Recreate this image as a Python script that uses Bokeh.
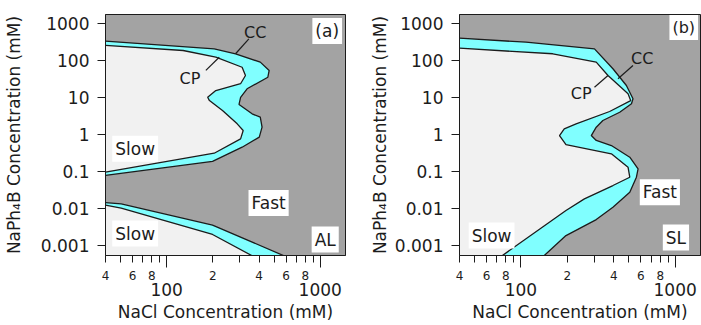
from bokeh.plotting import figure
from bokeh.models import LogAxis, FixedTicker, Label, Range1d
from bokeh.layouts import row
from bokeh.embed import file_html
from bokeh.resources import INLINE

# ---- styling -------------------------------------------------------------
FONT = "DejaVu Sans"
INK = "#1c1c1c"
FAST_COLOR = "#a3a3a3"
SLOW_COLOR = "#f1f1f1"
BAND_COLOR = "#80ffff"

# ---- axes ----------------------------------------------------------------
X_RANGE = (40, 1460)
Y_RANGE = (0.00054, 1790)
Y_TICKS = [0.001, 0.01, 0.1, 1, 10, 100, 1000]
Y_TICK_LABELS = ["0.001", "0.01", "0.1", "1", "10", "100", "1000"]
X_DECADES = [100, 1000]
X_DECADE_LABELS = ["100", "1000"]
X_DIGIT_TICKS = [40, 60, 80, 200, 400, 600, 800]
X_DIGIT_LABELS = ["4", "6", "8", "2", "4", "6", "8"]
X_MINOR = [40, 50, 60, 70, 80, 90, 200, 300, 400, 500, 600, 700, 800, 900]

# ---- panel (a): AL ---------------------------------------------------------
# upper slow/fast boundary: CC (critical coagulation) and CP lines
A_UP_CC_X = [40, 204, 281, 407, 465, 456, 334, 303, 296, 360, 407, 418, 401, 310, 199, 40]
A_UP_CC_Y = [339, 211, 155, 92, 55, 36, 17.5, 10.3, 6.6, 3.68, 2.98, 1.6, 0.86, 0.46, 0.19, 0.079]
A_UP_CP_X = [40, 128, 209, 310, 326, 303, 209, 185, 190, 231, 288, 315, 303, 204, 40]
A_UP_CP_Y = [260, 190, 125, 67, 40, 24, 15.7, 10.3, 8.4, 4.5, 1.97, 1.3, 0.77, 0.316, 0.097]
# lower slow/fast boundary
A_LO_CC_X = [40, 50.6, 199, 600]
A_LO_CC_Y = [0.0146, 0.0135, 0.0036, 0.0005]
A_LO_CP_X = [40, 50.6, 199, 370]
A_LO_CP_Y = [0.0125, 0.0103, 0.002, 0.0005]
# leader lines for the CC / CP tags
A_CC_LEADER_X = [343, 281]
A_CC_LEADER_Y = [394, 155]
A_CP_LEADER_X = [180, 220]
A_CP_LEADER_Y = [55, 125]

# ---- panel (b): SL ---------------------------------------------------------
B_CC_X = [40, 108, 300, 395, 483, 533, 521, 437, 340, 308, 286, 308, 386, 508, 575, 561,
          508, 395, 308, 196, 139]
B_CC_Y = [409, 319, 211, 61, 21.5, 9.4, 6.9, 4.06, 2.42, 1.6, 0.95, 0.70, 0.51, 0.246, 0.119,
          0.0708, 0.0278, 0.0109, 0.00507, 0.00187, 0.0005]
B_CP_X = [40, 161, 308, 367, 495, 515, 376, 228, 191, 178, 196, 386, 495, 508, 395, 258, 196, 74]
B_CP_Y = [219, 155, 92, 40, 12.8, 8.4, 4.25, 1.97, 1.44, 0.95, 0.54, 0.304, 0.132, 0.0708,
          0.0422, 0.0184, 0.0089, 0.0005]
B_CC_LEADER_X = [533, 426]
B_CC_LEADER_Y = [74.6, 32.6]
B_CP_LEADER_X = [300, 367]
B_CP_LEADER_Y = [19.3, 40]


def close_left(xs, ys):
    """Close a boundary curve along the left edge of the plot (x = first x)."""
    return xs + [xs[0]], ys + [ys[0]]


def close_bottom_left(xs, ys):
    """Close a boundary curve via the bottom-left corner."""
    return xs + [xs[0], xs[0]], ys + [ys[-1], ys[0]]


def make_panel(width, border_left, border_right, ylabel_standoff):
    p = figure(width=width, height=325, x_axis_type="log", y_axis_type="log",
               x_range=Range1d(*X_RANGE), y_range=Range1d(*Y_RANGE),
               toolbar_location=None, output_backend="svg",
               min_border_left=border_left, min_border_right=border_right,
               min_border_top=14, min_border_bottom=70)
    p.background_fill_color = FAST_COLOR
    p.border_fill_color = "white"
    p.grid.visible = False
    p.outline_line_color = INK
    p.outline_line_width = 1

    # y axis
    ya = p.yaxis[0]
    ya.ticker = FixedTicker(ticks=Y_TICKS, minor_ticks=[])
    ya.major_label_overrides = dict(zip(Y_TICKS, Y_TICK_LABELS))
    ya.major_tick_out = 8
    ya.major_tick_in = 0
    ya.major_label_standoff = 8
    ya.major_label_text_font = FONT
    ya.major_label_text_font_size = "17px"
    ya.major_label_text_color = INK
    ya.axis_line_color = INK
    ya.major_tick_line_color = INK
    ya.axis_label = "NaPh\u2084B Concentration (mM)"
    ya.axis_label_text_font = FONT
    ya.axis_label_text_font_size = "17px"
    ya.axis_label_text_font_style = "normal"
    ya.axis_label_text_color = INK
    ya.axis_label_standoff = ylabel_standoff

    # x axis: tick marks only
    xa = p.xaxis[0]
    xa.ticker = FixedTicker(ticks=X_DECADES, minor_ticks=X_MINOR)
    xa.major_label_overrides = {t: "" for t in X_DECADES}
    xa.major_label_standoff = 0
    xa.major_label_text_font_size = "1px"
    xa.major_tick_out = 12
    xa.major_tick_in = 0
    xa.minor_tick_out = 7
    xa.minor_tick_in = 0
    xa.axis_line_color = INK
    xa.major_tick_line_color = INK
    xa.minor_tick_line_color = INK

    # x axis: small mantissa digits
    xd = LogAxis(ticker=FixedTicker(ticks=X_DIGIT_TICKS, minor_ticks=[]),
                 major_label_overrides=dict(zip(X_DIGIT_TICKS, X_DIGIT_LABELS)),
                 axis_line_color=None, major_tick_line_color=None,
                 minor_tick_line_color=None, major_tick_out=0, major_tick_in=0,
                 minor_tick_out=0, minor_tick_in=0, major_label_standoff=3,
                 major_label_text_font=FONT, major_label_text_font_size="12px",
                 major_label_text_color=INK)
    p.add_layout(xd, "below")

    # x axis: decade labels and title
    xl = LogAxis(ticker=FixedTicker(ticks=X_DECADES, minor_ticks=[]),
                 major_label_overrides=dict(zip(X_DECADES, X_DECADE_LABELS)),
                 axis_line_color=None, major_tick_line_color=None,
                 minor_tick_line_color=None, major_tick_out=0, major_tick_in=0,
                 minor_tick_out=0, minor_tick_in=0, major_label_standoff=0,
                 major_label_text_font=FONT, major_label_text_font_size="17px",
                 major_label_text_color=INK,
                 axis_label="NaCl Concentration (mM)", axis_label_text_font=FONT,
                 axis_label_text_font_size="17px", axis_label_text_font_style="normal",
                 axis_label_text_color=INK, axis_label_standoff=3)
    p.add_layout(xl, "below")
    return p


def draw_boundary(p, cc_x, cc_y, cp_x, cp_y, closer):
    cx, cy = closer(cc_x, cc_y)
    p.patch(cx, cy, fill_color=BAND_COLOR, line_color=None)
    sx, sy = closer(cp_x, cp_y)
    p.patch(sx, sy, fill_color=SLOW_COLOR, line_color=None)
    p.line(cc_x, cc_y, line_color=INK, line_width=1.3)
    p.line(cp_x, cp_y, line_color=INK, line_width=1.3)


def tag(p, x, y, text, size="17px", box=False, align="center"):
    kw = dict(x=x, y=y, text=text, text_font=FONT, text_font_size=size,
              text_color=INK, text_align=align, text_baseline="middle")
    if box:
        kw.update(background_fill_color="white", padding=3)
    p.add_layout(Label(**kw))


# ---- panel (a) -------------------------------------------------------------
pa = make_panel(350, 103, 5, 14)
draw_boundary(pa, A_UP_CC_X, A_UP_CC_Y, A_UP_CP_X, A_UP_CP_Y, close_left)
draw_boundary(pa, A_LO_CC_X, A_LO_CC_Y, A_LO_CP_X, A_LO_CP_Y, close_bottom_left)
pa.line(A_CC_LEADER_X, A_CC_LEADER_Y, line_color=INK, line_width=1.2)
pa.line(A_CP_LEADER_X, A_CP_LEADER_Y, line_color=INK, line_width=1.2)
tag(pa, 377, 583, "CC", size="16px")
tag(pa, 142, 33, "CP", size="16px")
tag(pa, 1110, 640, "(a)", box=True)
tag(pa, 62.4, 0.42, "Slow", box=True)
tag(pa, 461, 0.0142, "Fast", box=True)
tag(pa, 62.4, 0.00212, "Slow", box=True)
tag(pa, 1077, 0.00146, "AL", box=True)

# ---- panel (b) -------------------------------------------------------------
pb = make_panel(351, 109, 1, 2)
draw_boundary(pb, B_CC_X, B_CC_Y, B_CP_X, B_CP_Y, close_bottom_left)
pb.line(B_CC_LEADER_X, B_CC_LEADER_Y, line_color=INK, line_width=1.2)
pb.line(B_CP_LEADER_X, B_CP_LEADER_Y, line_color=INK, line_width=1.2)
tag(pb, 612, 119, "CC", size="16px")
tag(pb, 246, 13, "CP", size="16px")
tag(pb, 1408, 797, "(b)", size="16px", box=True, align="right")
tag(pb, 64.6, 0.00187, "Slow", box=True)
tag(pb, 796, 0.0278, "Fast", box=True)
tag(pb, 1012, 0.00165, "SL", box=True)

layout = row(pa, pb)
open("out.html", "w").write(file_html(layout, INLINE))
